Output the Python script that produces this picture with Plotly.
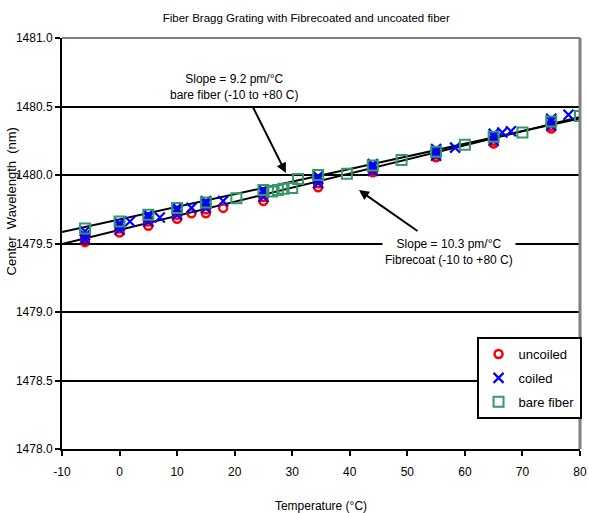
import plotly.graph_objects as go

# ---------------- data ----------------
uncoiled_temp = [-6, -6, 0, 0, 5, 5, 10, 10, 12.5, 15, 15, 18, 25, 25,
                 34.5, 34.5, 44, 44, 55, 55, 65, 65, 75, 75]
uncoiled_wl = [1479.51, 1479.54, 1479.58, 1479.61, 1479.63, 1479.66, 1479.68, 1479.71,
               1479.72, 1479.72, 1479.75, 1479.76, 1479.81, 1479.84, 1479.91, 1479.94,
               1480.02, 1480.04, 1480.13, 1480.15, 1480.23, 1480.25, 1480.34, 1480.36]

coiled_temp = [-6, -6, -6, 0, 0, 0, 1.8, 5, 5, 5, 7, 10, 10, 10, 12.5, 15, 15, 15, 18,
               25, 25, 25, 34.5, 34.5, 34.5, 44, 44, 44, 55, 55, 55, 58.3,
               65, 65, 65, 66.5, 68, 75, 75, 75, 78]
coiled_wl = [1479.53, 1479.56, 1479.59, 1479.60, 1479.63, 1479.65, 1479.66,
             1479.66, 1479.69, 1479.71, 1479.69, 1479.71, 1479.74, 1479.76, 1479.76,
             1479.76, 1479.79, 1479.81, 1479.81, 1479.84, 1479.87, 1479.89,
             1479.94, 1479.97, 1479.99, 1480.03, 1480.06, 1480.08,
             1480.14, 1480.17, 1480.19, 1480.20, 1480.25, 1480.28, 1480.30,
             1480.31, 1480.32, 1480.36, 1480.39, 1480.41, 1480.44]

bare_temp = [-6, 0, 5, 10, 15, 20.3, 25, 26.5, 27.5, 28.5, 30, 31, 34.5, 39.5,
             44, 49, 55, 60, 65, 70, 75, 80]
bare_wl = [1479.61, 1479.66, 1479.71, 1479.76, 1479.80, 1479.83, 1479.89, 1479.88,
           1479.89, 1479.90, 1479.905, 1479.97, 1480.00, 1480.01, 1480.07, 1480.11,
           1480.17, 1480.22, 1480.28, 1480.31, 1480.39, 1480.43]

fit_temp = [-10, 80]
fit_bare_wl = [1479.584, 1480.412]     # slope 9.2 pm/°C
fit_coat_wl = [1479.496, 1480.423]     # slope 10.3 pm/°C

x_ticks = [-10, 0, 10, 20, 30, 40, 50, 60, 70, 80]
x_tick_text = ["-10", "0", "10", "20", "30", "40", "50", "60", "70", "80"]
y_ticks = [1478.0, 1478.5, 1479.0, 1479.5, 1480.0, 1480.5, 1481.0]

FONT = "Liberation Sans Narrow, Arial Narrow, Liberation Sans, Arial, sans-serif"

fig = go.Figure()

fig.add_trace(go.Scatter(x=fit_temp, y=fit_bare_wl, mode="lines",
                         line=dict(color="black", width=2), showlegend=False, hoverinfo="skip"))
fig.add_trace(go.Scatter(x=fit_temp, y=fit_coat_wl, mode="lines",
                         line=dict(color="black", width=2), showlegend=False, hoverinfo="skip"))

fig.add_trace(go.Scatter(x=uncoiled_temp, y=uncoiled_wl, mode="markers", name="uncoiled",
                         legendgroup="a",
                         marker=dict(symbol="circle-open", size=8, color="#FF0000",
                                     line=dict(width=2.5, color="#FF0000"))))
fig.add_trace(go.Scatter(x=coiled_temp, y=coiled_wl, mode="markers", name="coiled",
                         legendgroup="b",
                         marker=dict(symbol="x-thin-open", size=10, color="#0000FF",
                                     line=dict(width=2.2, color="#0000FF"))))
fig.add_trace(go.Scatter(x=bare_temp, y=bare_wl, mode="markers", name="bare fiber",
                         legendgroup="c",
                         marker=dict(symbol="square-open", size=10, color="#339966",
                                     line=dict(width=2, color="#339966"))))

# frame (top/right grey)
fig.add_shape(type="line", xref="paper", yref="paper", x0=0, x1=1, y0=1, y1=1,
              line=dict(color="#808080", width=2), layer="above")
fig.add_shape(type="line", xref="paper", yref="paper", x0=1, x1=1, y0=0, y1=1,
              line=dict(color="#808080", width=3), layer="above")

# annotations
fig.add_annotation(x=19.9, y=1480.64, xref="x", yref="y", showarrow=False,
                   text="Slope = 9.2 pm/°C<br>bare fiber (-10 to +80 C)",
                   font=dict(family=FONT, size=12, color="black"))
fig.add_annotation(x=28.9, y=1480.015, ax=-34, ay=-68, text="", showarrow=True,
                   arrowhead=2, arrowsize=1, arrowwidth=2, arrowcolor="black")
fig.add_annotation(x=41.6, y=1479.89, ax=60, ay=42, text="", showarrow=True,
                   arrowhead=2, arrowsize=1, arrowwidth=2, arrowcolor="black")
fig.add_annotation(x=57.2, y=1479.44, xref="x", yref="y", showarrow=False,
                   text="Slope = 10.3 pm/°C<br>Fibrecoat (-10 to +80 C)",
                   bgcolor="white", borderpad=2,
                   font=dict(family=FONT, size=12, color="black"))

# y axis title as annotation
fig.add_annotation(xref="paper", yref="paper", x=-0.098, y=0.603, showarrow=False,
                   xanchor="center", yanchor="middle",
                   text="Center  Wavelength  (nm)", textangle=-90,
                   font=dict(family=FONT, size=13, color="black"))

fig.update_layout(
    width=589, height=513,
    margin=dict(l=62, r=7, t=38, b=64),
    paper_bgcolor="white", plot_bgcolor="white",
    font=dict(family=FONT, size=12, color="black"),
    title=dict(text="Fiber Bragg Grating with Fibrecoated and uncoated fiber",
               x=0.52, xanchor="center", y=0.965, yanchor="middle",
               font=dict(family=FONT, size=11.5, color="black")),
    showlegend=True,
    legend=dict(x=1.003, xanchor="right", y=0.2725, yanchor="top",
                bgcolor="white", bordercolor="black", borderwidth=2,
                font=dict(family=FONT, size=13, color="black"),
                tracegroupgap=4),
    xaxis=dict(range=[-10, 80], tickvals=x_ticks, ticktext=x_tick_text,
               ticks="outside", ticklen=5, automargin=False,
               tickwidth=2, tickcolor="black", showline=True, linecolor="black",
               linewidth=2, showgrid=False, zeroline=False, ticklabelstandoff=6,
               title=dict(text="Temperature (°C)", standoff=26,
                          font=dict(family=FONT, size=12))),
    yaxis=dict(range=[1478, 1481], tickvals=y_ticks, tickformat=".1f",
               ticks="outside", ticklen=5, tickwidth=2, tickcolor="black",
               automargin=False,
               showline=True, linecolor="black", linewidth=2,
               showgrid=True, gridcolor="black", gridwidth=2, zeroline=False),
)

fig.write_html("out.html")
